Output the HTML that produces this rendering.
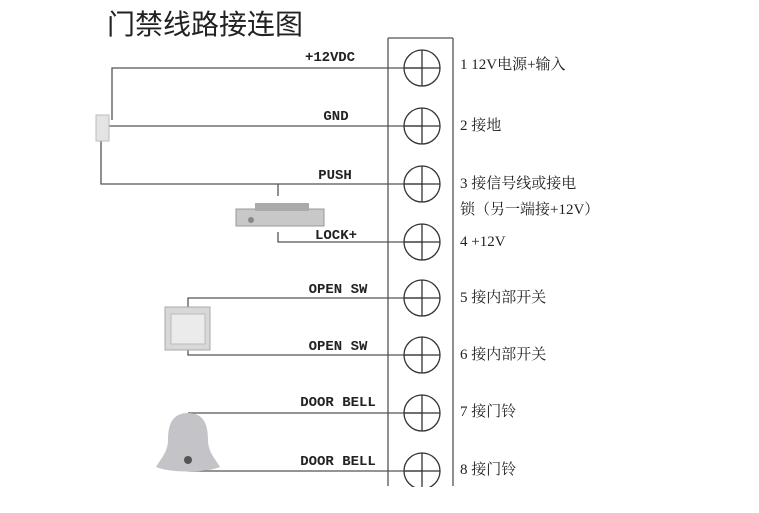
<!DOCTYPE html>
<html><head><meta charset="utf-8"><style>
html,body{margin:0;padding:0;background:#fff;width:759px;height:513px;overflow:hidden}
</style></head><body>
<svg width="759" height="513" xmlns="http://www.w3.org/2000/svg" font-family="'Liberation Serif','Noto Serif CJK SC',serif">
<defs>
<g id="c"><circle cx="422" cy="0" r="18"/><line x1="422" y1="-18" x2="422" y2="18"/><line x1="404" y1="0" x2="440" y2="0"/></g>
</defs>
<text x="107" y="34" font-size="28" font-family="'Liberation Sans','Noto Sans CJK SC',sans-serif" fill="#222">门禁线路接连图</text>
<g stroke="#555" stroke-width="1.3" fill="none">
<line x1="388" y1="38" x2="388" y2="486"/>
<line x1="453" y1="38" x2="453" y2="486"/>
<line x1="388" y1="38" x2="453" y2="38"/>
<polyline points="112,120 112,68 422,68"/>
<line x1="108" y1="126" x2="422" y2="126"/>
<polyline points="101,140 101,184 422,184"/>
<line x1="278" y1="184" x2="278" y2="196"/>
<polyline points="278,232 278,242 422,242"/>
<polyline points="188,310 188,298 422,298"/>
<polyline points="188,348 188,355 422,355"/>
<line x1="188" y1="413" x2="422" y2="413"/>
<line x1="188" y1="471" x2="422" y2="471"/>
</g>
<g stroke="#333" stroke-width="1.3" fill="none">
<use href="#c" y="68"/><use href="#c" y="126"/><use href="#c" y="184"/><use href="#c" y="242"/>
<use href="#c" y="298"/><use href="#c" y="355"/><use href="#c" y="413"/><use href="#c" y="471"/>
</g>
<rect x="388" y="487" width="66" height="26" fill="#fff"/>
<rect x="96" y="115" width="13" height="26" fill="#e4e4e4" stroke="#bbb"/>
<rect x="236" y="209" width="88" height="17" fill="#c8c8c8" stroke="#999"/>
<rect x="255" y="203" width="54" height="8" fill="#aaa"/>
<circle cx="251" cy="220" r="3" fill="#888"/>
<rect x="165" y="307" width="45" height="43" fill="#d8d8d8" stroke="#aaa"/>
<rect x="171" y="314" width="34" height="30" fill="#ebebeb" stroke="#bbb"/>
<path d="M188,413 C172,413 168,425 168,440 C168,452 160,460 156,467 C170,473 206,473 220,467 C216,460 208,452 208,440 C208,425 204,413 188,413Z" fill="#c4c4c8"/>
<circle cx="188" cy="460" r="4" fill="#555"/>
<g font-size="14" fill="#222" text-anchor="middle" font-weight="bold" font-family="'Liberation Mono',monospace">
<text x="330" y="61" textLength="50">+12VDC</text>
<text x="336" y="120">GND</text>
<text x="335" y="179">PUSH</text>
<text x="336" y="239">LOCK+</text>
<text x="338" y="293">OPEN SW</text>
<text x="338" y="350">OPEN SW</text>
<text x="338" y="406">DOOR BELL</text>
<text x="338" y="465">DOOR BELL</text>
</g>
<g font-size="15" fill="#222">
<text x="460" y="69">1 12V电源+输入</text>
<text x="460" y="130">2 接地</text>
<text x="460" y="188">3 接信号线或接电</text>
<text x="460" y="214">锁（另一端接+12V）</text>
<text x="460" y="246">4 +12V</text>
<text x="460" y="302">5 接内部开关</text>
<text x="460" y="359">6 接内部开关</text>
<text x="460" y="416">7 接门铃</text>
<text x="460" y="474">8 接门铃</text>
</g>
</svg>
</body></html>
